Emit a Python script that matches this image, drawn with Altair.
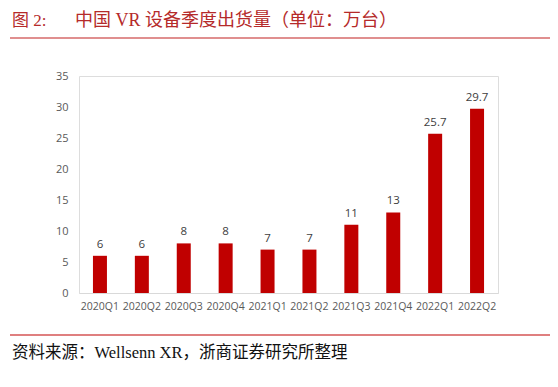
import altair as alt
import pandas as pd

quarters = ["2020Q1", "2020Q2", "2020Q3", "2020Q4", "2021Q1", "2021Q2",
            "2021Q3", "2021Q4", "2022Q1", "2022Q2"]
shipments = [6, 6, 8, 8, 7, 7, 11, 13, 25.7, 29.7]
labels = ["6", "6", "8", "8", "7", "7", "11", "13", "25.7", "29.7"]
y_ticks = [0, 5, 10, 15, 20, 25, 30, 35]

title_prefix = "图 2:"
title_main = "中国 VR 设备季度出货量（单位：万台）"
source_text = "资料来源：Wellsenn XR，浙商证券研究所整理"

df = pd.DataFrame({"q": quarters, "v": shipments, "lab": labels})

SERIF = "Liberation Serif, Noto Sans CJK SC"
SANS = "Open Sans, Noto Sans, sans-serif"

W, H = 419, 217

x_enc = alt.X("q:N", sort=quarters, title=None,
              scale=alt.Scale(paddingInner=0.66, paddingOuter=0.33),
              axis=alt.Axis(labelAngle=0, labelFont=SANS, labelFontSize=10.5,
                            labelColor="#595959", ticks=False, domain=True,
                            domainColor="#D9D9D9", domainWidth=1.2,
                            labelPadding=8, grid=False, labelOverlap=False))
y_enc = alt.Y("v:Q", title=None,
              scale=alt.Scale(domain=[0, 35], nice=False),
              axis=alt.Axis(values=y_ticks, tickCount=8, labelFont=SANS,
                            labelFontSize=11, labelColor="#595959", ticks=False,
                            domain=False, grid=False, labelPadding=11,
                            labelOverlap=False, labelFlush=False))

bars = alt.Chart(df).mark_bar(color="#C00000", size=14).encode(x=x_enc, y=y_enc)

vals = alt.Chart(df).mark_text(font=SANS, fontSize=11.5, color="#404040",
                               baseline="alphabetic", dy=-8).encode(
    x=x_enc, y=y_enc, text="lab:N")

deco = pd.DataFrame({"d": [0]})

title_line = alt.Chart(deco).mark_rule(color="#D66A6A", strokeWidth=1.5, clip=False).encode(
    x=alt.value(-69), x2=alt.value(472), y=alt.value(-38))
foot_line = alt.Chart(deco).mark_rule(color="#C00000", strokeWidth=1.2, clip=False).encode(
    x=alt.value(-69), x2=alt.value(472), y=alt.value(259))

t1 = alt.Chart(deco).mark_text(text=title_prefix, font=SERIF, fontSize=17,
                               color="#B52A2A", align="left", baseline="middle",
                               clip=False).encode(x=alt.value(-67), y=alt.value(-55))
t2 = alt.Chart(deco).mark_text(text=title_main, font=SERIF, fontSize=18,
                               color="#B52A2A", align="left", baseline="middle",
                               clip=False).encode(x=alt.value(-4), y=alt.value(-55))
src = alt.Chart(deco).mark_text(text=source_text, font=SERIF, fontSize=16.5,
                                color="#111111", align="left", baseline="middle",
                                clip=False).encode(x=alt.value(-67), y=alt.value(277))

chart = alt.layer(bars, vals, title_line, foot_line, t1, t2, src).properties(
    width=W, height=H,
    autosize=alt.AutoSizeParams(type="none"),
    padding={"left": 71, "top": 68, "right": 52, "bottom": 86},
).configure_view(stroke=None).configure(background="white")

chart.save("out.html", embed_options={"renderer": "svg", "actions": False})
